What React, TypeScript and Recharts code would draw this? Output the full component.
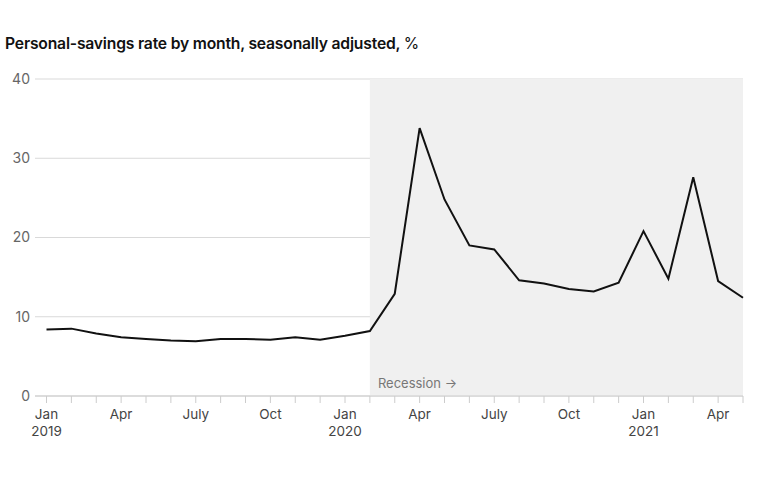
import React from "react";
import {
  LineChart,
  Line,
  XAxis,
  YAxis,
  CartesianGrid,
  ReferenceArea,
  Label,
} from "recharts";

const months = [
  "2019-01", "2019-02", "2019-03", "2019-04", "2019-05", "2019-06",
  "2019-07", "2019-08", "2019-09", "2019-10", "2019-11", "2019-12",
  "2020-01", "2020-02", "2020-03", "2020-04", "2020-05", "2020-06",
  "2020-07", "2020-08", "2020-09", "2020-10", "2020-11", "2020-12",
  "2021-01", "2021-02", "2021-03", "2021-04", "2021-05",
];

const savingsRate = [
  8.4, 8.5, 7.9, 7.4, 7.2, 7.0, 6.9, 7.2, 7.2, 7.1, 7.4, 7.1,
  7.6, 8.2, 12.9, 33.8, 24.8, 19.0, 18.5, 14.6, 14.2, 13.5, 13.2, 14.3,
  20.8, 14.8, 27.6, 14.5, 12.4,
];

const yTicks = [0, 10, 20, 30, 40];

const monthLabels: Record<string, string> = {
  "01": "Jan",
  "04": "Apr",
  "07": "July",
  "10": "Oct",
};

const recessionStart = "2020-02";
const recessionEnd = "2021-05";

const FONT = "Inter, 'Noto Sans', Arial, sans-serif";

const data = months.map((m, i) => ({ month: m, rate: savingsRate[i] }));

function MonthTick(props: any) {
  const { x, y, payload } = props;
  const [year, mm] = String(payload.value).split("-");
  const label = monthLabels[mm];
  if (!label) return null;
  return (
    <g>
      <text
        x={x}
        y={y + 14}
        textAnchor="middle"
        fill="#444444"
        fontSize={13.5}
        fontFamily={FONT}
      >
        {label}
      </text>
      {mm === "01" && (
        <text
          x={x}
          y={y + 31}
          textAnchor="middle"
          fill="#444444"
          fontSize={13.5}
          fontFamily={FONT}
        >
          {year}
        </text>
      )}
    </g>
  );
}

export default function App() {
  return (
    <div
      style={{
        position: "absolute",
        left: 0,
        top: 0,
        width: 767,
        height: 480,
        background: "#ffffff",
        fontFamily: FONT,
      }}
    >
      <div
        style={{
          position: "absolute",
          left: 5,
          top: 34,
          fontSize: 15.7,
          fontWeight: 600,
          color: "#111111",
          letterSpacing: -0.2,
          whiteSpace: "nowrap",
        }}
      >
        Personal-savings rate by month, seasonally adjusted,{" "}
        <span style={{ fontWeight: 400 }}>%</span>
      </div>
      <LineChart
        width={767}
        height={480}
        data={data}
        margin={{ top: 79, right: 24, bottom: 54, left: 0 }}
      >
        <ReferenceArea
          x1={recessionStart}
          x2={recessionEnd}
          y1={0}
          y2={40}
          fill="#f0f0f0"
          fillOpacity={1}
          stroke="none"
        >
          <Label
            value="Recession →"
            position="insideBottomLeft"
            offset={8}
            fill="#777777"
            fontSize={13}
            fontFamily={FONT}
          />
        </ReferenceArea>
        <CartesianGrid vertical={false} stroke="#d9d9d9" />
        <XAxis
          dataKey="month"
          scale="point"
          interval={0}
          height={30}
          padding={{ left: 11.5, right: 0 }}
          axisLine={{ stroke: "#cccccc" }}
          tickLine={{ stroke: "#cccccc" }}
          tickSize={7}
          tickMargin={2}
          tick={<MonthTick />}
        />
        <YAxis
          type="number"
          domain={[0, 40]}
          ticks={yTicks}
          width={35}
          axisLine={false}
          tickLine={false}
          tickSize={0}
          tickMargin={5}
          tick={{ fill: "#666666", fontSize: 14, fontFamily: FONT }}
        />
        <Line
          type="linear"
          dataKey="rate"
          stroke="#111111"
          strokeWidth={2}
          dot={false}
          isAnimationActive={false}
        />
      </LineChart>
    </div>
  );
}
